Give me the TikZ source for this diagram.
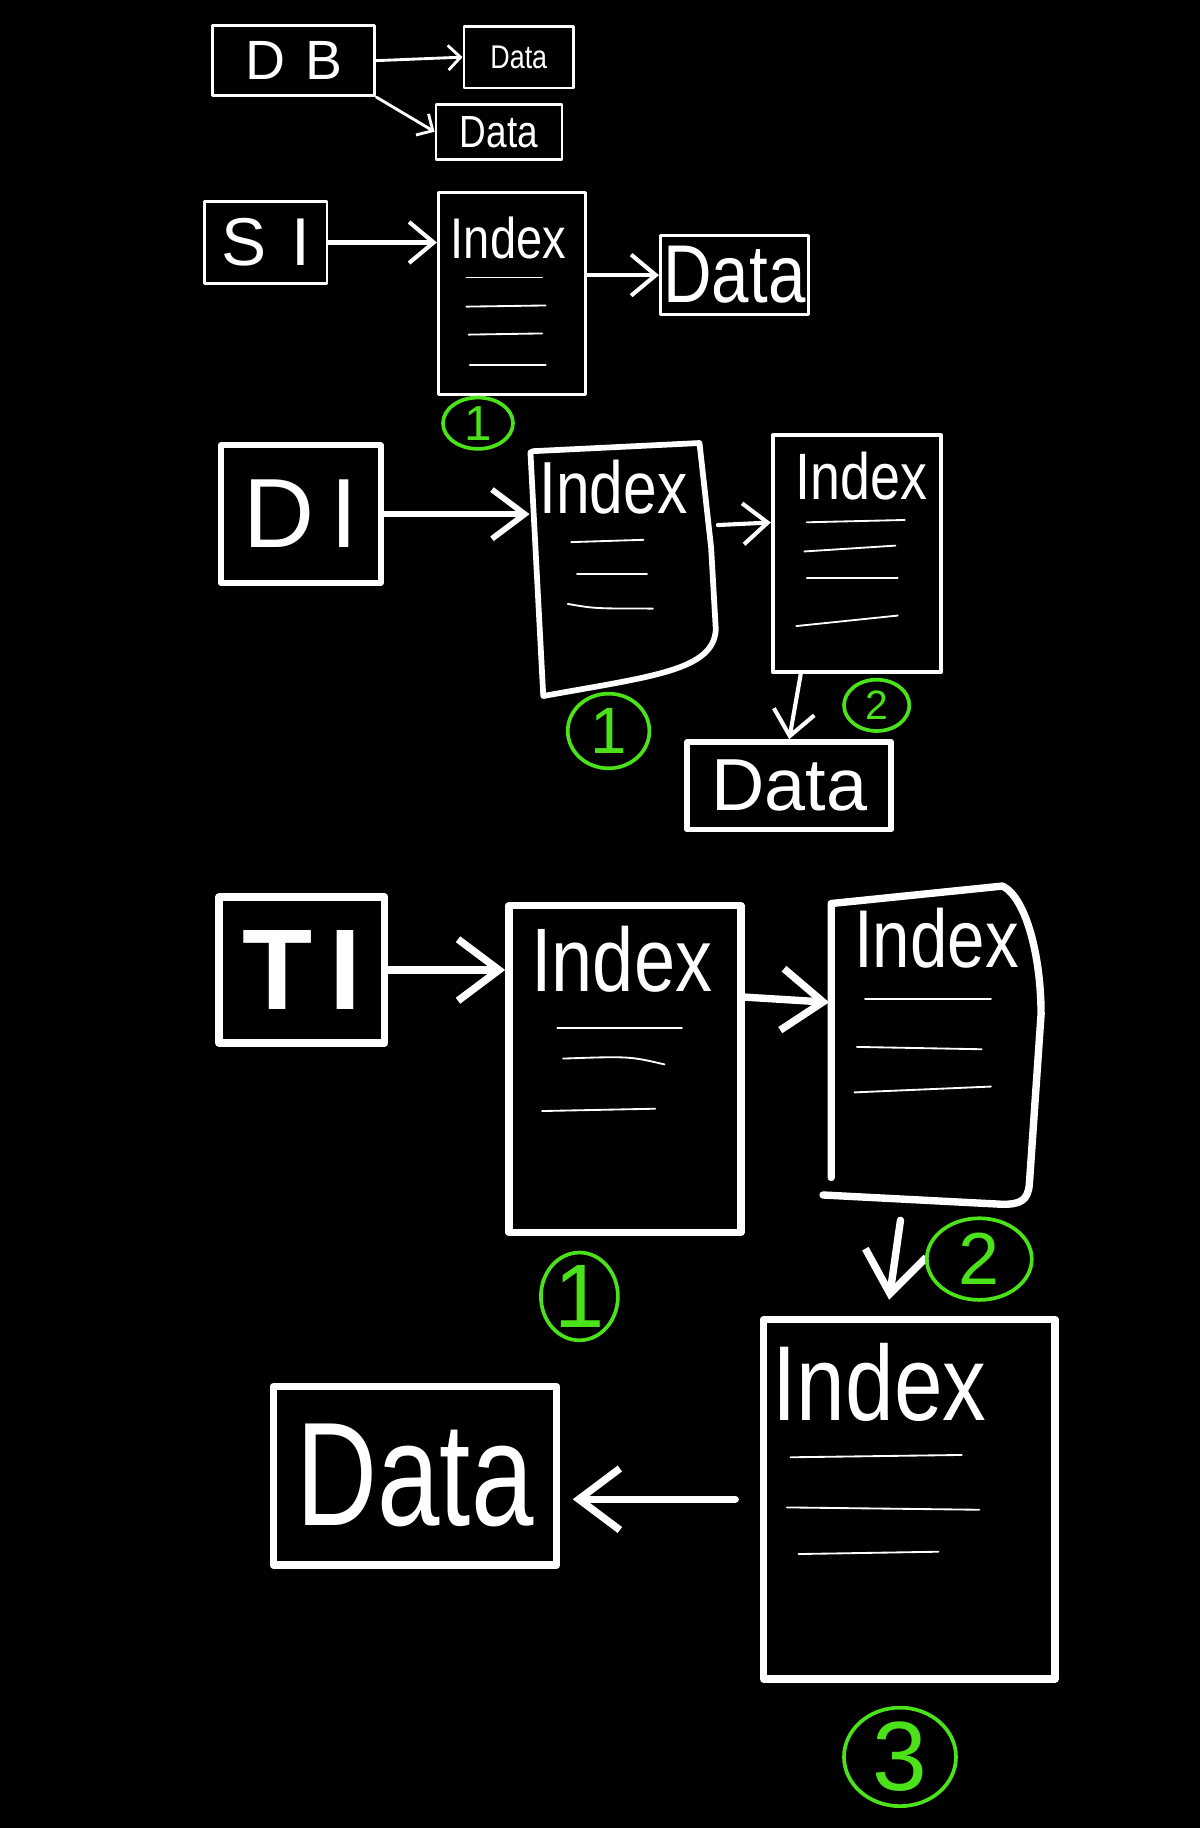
\documentclass[tikz,border=0pt]{standalone}
\usepackage{fontspec}
\setmainfont{Liberation Sans}
\usetikzlibrary{arrows.meta,shapes.geometric,calc}
\definecolor{gr}{RGB}{76,226,26}
\newcommand\hw[1]{\scalebox{0.82}[1]{#1}}
\newcommand\fs[1]{\fontsize{#1}{#1}\selectfont}
\begin{document}
\begin{tikzpicture}[x=0.01cm,y=-0.01cm,line cap=round,line join=round,
  every node/.style={text=white},
  w0/.style={draw=white,line width=0.45pt},
  w1/.style={draw=white,line width=0.7pt},
  w2/.style={draw=white,line width=1.0pt},
  w3/.style={draw=white,line width=1.4pt},
  w4/.style={draw=white,line width=1.8pt},
  box/.style={inner sep=0pt},
  gcirc/.style={ellipse,draw=gr,line width=0.9pt,text=gr,inner sep=0pt},
  a1/.style={w1,-{Straight Barb[length=3pt,width=6pt]}},
  a2/.style={w2,-{Straight Barb[length=6pt,width=10pt]}},
  a3/.style={w3,-{Straight Barb[length=8pt,width=12pt]}},
  a4/.style={w4,-{Straight Barb[length=10pt,width=15pt]}}]
\fill[black] (0,0) rectangle (1029,1568);
\useasboundingbox (0,0) rectangle (1029,1568);

% Row 1
\node[box,w1,minimum width=1.39cm,minimum height=0.60cm] (db) at (252,52) {\fs{13.5}D\kern5pt B};
\node[box,w1,minimum width=0.94cm,minimum height=0.53cm] (d1) at (445,49) {\fs{8}\hw{Data}};
\node[box,w1,minimum width=1.08cm,minimum height=0.47cm] (d2) at (428,113) {\fs{11}\hw{Data}};
\draw[a1] (db.east) -- (d1.west);
\draw[a1] (db.south east) -- (d2.west);

% Row 2
\node[box,w1,minimum width=1.05cm,minimum height=0.71cm] (si) at (228,208) {\fs{16.5}S\kern6pt I};
\node[box,w1,minimum width=1.26cm,minimum height=1.73cm] (ix1) at (439,252) {};
\node[anchor=west,inner sep=0pt] (ix1t) at (386,204) {\fs{14}\hw{Index}};
\draw[w0] (400,238) -- (465,238);
\draw[w0] (400,263) -- (468,262);
\draw[w0] (402,287) -- (465,286);
\draw[w0] (403,313) -- (468,313);
\node[box,w1,minimum width=1.27cm,minimum height=0.68cm] (sd) at (630,236) {\fs{20}\hw{Data}};
\draw[a2] (si.east) -- (ix1.west |- si.east);
\draw[a2] (ix1.east |- sd.west) -- (sd.west);
\node[gcirc,minimum width=0.6cm,minimum height=0.44cm] (g21) at (410,363) {\fs{12}1};

% Row 3
\node[box,w3,minimum width=1.37cm,minimum height=1.18cm] (di) at (258,441) {\fs{24}D\kern4pt I};
\node[box,minimum width=1.6cm,minimum height=2.17cm] (ia) at (535,488) {};
\draw[w3] (457,387) -- (600,380) -- (610,470) -- (614,540)
  .. controls (612,575) and (560,580) .. (466,597) -- (455,388);
\node[anchor=west,inner sep=0pt] (iat) at (462,418) {\fs{18}\hw{Index}};
\draw[w0] (490,465) -- (552,463);
\draw[w0] (495,492) -- (555,492);
\draw[w0] (487,518) .. controls (510,522) .. (560,522);
\node[box,w2,minimum width=1.44cm,minimum height=2.03cm] (ib) at (735,475) {};
\node[anchor=west,inner sep=0pt] (ibt) at (682,408) {\fs{16}\hw{Index}};
\draw[w0] (692,448) -- (776,446);
\draw[w0] (690,473) -- (768,468);
\draw[w0] (692,496) -- (770,496);
\draw[w0] (683,537) -- (770,528);
\node[box,w3,minimum width=1.75cm,minimum height=0.75cm] (dd) at (677,674) {\fs{18}Data};
\draw[a3] (di.east) -- (di.east -| ia.west);
\draw[a2] (ia.25) -- (ib.160);
\draw[a2] (ib.245) -- (dd.north);
\node[gcirc,minimum width=0.70cm,minimum height=0.64cm] (g31) at (522,627) {\fs{16}1};
\node[gcirc,minimum width=0.56cm,minimum height=0.44cm] (g32) at (752,605) {\fs{10}2};

% Row 4
\node[box,w4,minimum width=1.42cm,minimum height=1.25cm] (ti) at (259,832) {\fs{28}\bfseries T\kern4pt I};
\node[box,w4,minimum width=1.99cm,minimum height=2.80cm] (j1) at (536,917) {};
\node[anchor=west,inner sep=0pt] (j1t) at (455,823) {\fs{22}\hw{Index}};
\draw[w0] (478,882) -- (585,882);
\draw[w0] (483,908) .. controls (540,906) .. (570,913);
\draw[w0] (465,953) -- (562,951);
\node[box,minimum width=1.78cm,minimum height=2.72cm] (j2) at (801,896) {};
\draw[w4] (713,1010) -- (713,775) -- (860,760)
  .. controls (880,770) and (893,820) .. (893,870) -- (883,1015)
  .. controls (882,1030) and (875,1033) .. (860,1033) -- (706,1025);
\node[anchor=west,inner sep=0pt] (j2t) at (732,805) {\fs{20}\hw{Index}};
\draw[w0] (742,857) -- (850,857);
\draw[w0] (735,898) -- (842,900);
\draw[w0] (733,937) -- (850,932);
\node[box,w4,minimum width=2.50cm,minimum height=3.08cm] (j3) at (780,1286) {};
\node[anchor=west,inner sep=0pt] (j3t) at (662,1186) {\fs{26}\hw{Index}};
\draw[w0] (678,1250) -- (825,1248);
\draw[w0] (675,1293) -- (840,1295);
\draw[w0] (685,1333) -- (805,1331);
\node[box,w4,minimum width=2.43cm,minimum height=1.53cm] (bd) at (356,1266) {\fs{36}\scalebox{0.76}[1]{Data}};
\draw[a4] (ti.east) -- (ti.east -| j1.west);
\draw[a4] (j1.31) -- (j2.158);
\draw[a4,shorten <=4pt,shorten >=4pt] (j2.259) -- (j3.97);
\draw[a4,shorten <=6pt,shorten >=3pt] (j3.west) -- (j3.west -| bd.east);
\node[gcirc,minimum width=0.66cm,minimum height=0.74cm] (g41) at (497,1112) {\fs{22}1};
\node[gcirc,minimum width=0.90cm,minimum height=0.70cm] (g42) at (840,1080) {\fs{18}2};
\node[gcirc,minimum width=0.96cm,minimum height=0.84cm] (g43) at (772,1507) {\fs{24}3};
\end{tikzpicture}
\end{document}
